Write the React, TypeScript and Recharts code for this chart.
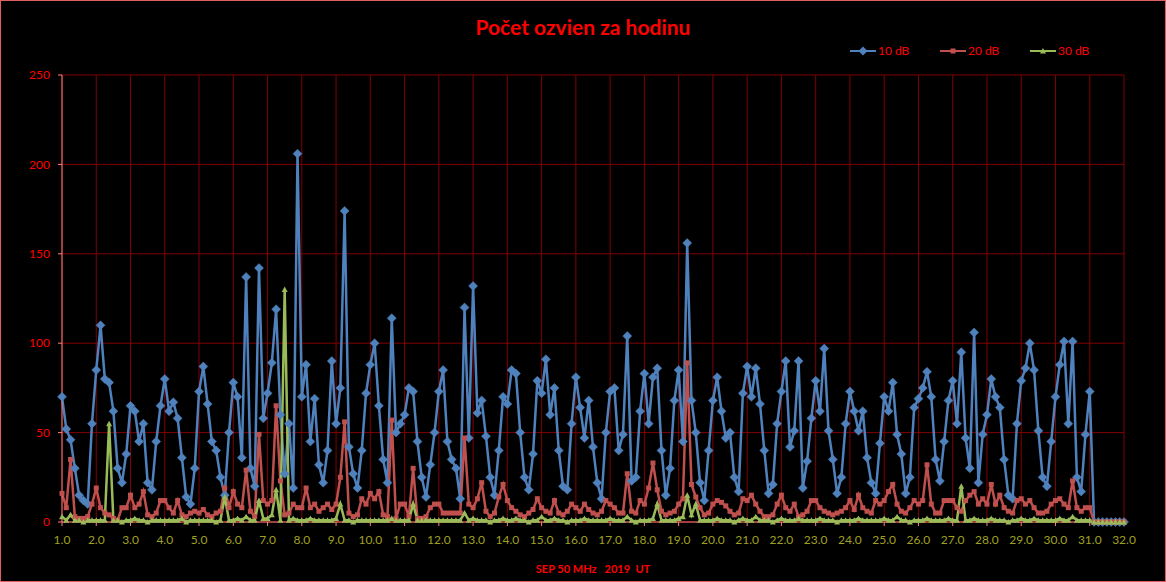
import { LineChart, Line, XAxis, YAxis, CartesianGrid } from "recharts";

// 8 readings per day (every 3 hours), 1.0 .. 32.0
const STEPS_PER_DAY = 8;

const db10 = [
	70, 52, 46, 30, 15, 12, 10, 55,
	85, 110, 80, 78, 62, 30, 22, 38,
	65, 62, 45, 55, 22, 18, 45, 65,
	80, 62, 67, 58, 36, 14, 10, 30,
	73, 87, 66, 45, 40, 25, 15, 50,
	78, 70, 36, 137, 30, 20, 142, 58,
	72, 89, 119, 60, 27, 55, 19, 206,
	70, 88, 45, 69, 32, 22, 40, 90,
	55, 75, 174, 42, 27, 19, 40, 72,
	88, 100, 65, 35, 22, 114, 50, 55,
	60, 75, 73, 45, 25, 14, 32, 50,
	73, 85, 45, 35, 30, 13, 120, 47,
	132, 61, 68, 48, 25, 15, 40, 70,
	66, 85, 83, 50, 25, 18, 38, 79,
	72, 91, 60, 75, 40, 20, 18, 55,
	81, 64, 47, 68, 42, 22, 13, 50,
	73, 75, 40, 49, 104, 23, 25, 62,
	83, 55, 81, 86, 40, 15, 30, 68,
	85, 45, 156, 68, 50, 22, 12, 40,
	68, 81, 62, 47, 50, 25, 17, 72,
	87, 70, 86, 66, 40, 16, 21, 55,
	73, 90, 42, 51, 90, 19, 34, 58,
	79, 62, 97, 51, 35, 16, 25, 55,
	73, 62, 51, 62, 36, 22, 16, 44,
	70, 62, 78, 49, 38, 16, 25, 64,
	69, 75, 84, 70, 35, 23, 45, 68,
	79, 55, 95, 47, 30, 106, 22, 49,
	60, 80, 70, 64, 35, 15, 13, 55,
	79, 86, 100, 85, 51, 25, 20, 45,
	70, 88, 101, 55, 101, 25, 17, 49,
	73, 0, 0, 0, 0, 0, 0, 0,
	0,
];

const db20 = [
	16, 8, 35, 3, 2, 2, 3, 10,
	19, 8, 5, 4, 2, 1, 8, 8,
	15, 8, 10, 17, 4, 3, 5, 12,
	12, 8, 5, 12, 4, 3, 5, 6,
	5, 7, 4, 3, 5, 6, 19, 8,
	17, 10, 8, 29, 6, 3, 49, 12,
	10, 12, 65, 23, 4, 5, 10, 8,
	8, 19, 8, 10, 6, 8, 10, 7,
	10, 25, 56, 5, 3, 4, 13, 10,
	16, 13, 17, 4, 3, 57, 2, 10,
	10, 3, 30, 2, 2, 3, 8, 10,
	10, 5, 5, 5, 5, 5, 47, 10,
	8, 13, 22, 6, 3, 5, 14, 21,
	12, 8, 6, 4, 3, 5, 7, 13,
	8, 6, 5, 12, 5, 4, 6, 10,
	8, 6, 10, 7, 5, 4, 6, 12,
	10, 8, 5, 5, 27, 6, 5, 12,
	10, 19, 33, 18, 6, 4, 5, 6,
	10, 13, 89, 21, 14, 8, 4, 5,
	10, 12, 11, 9, 6, 4, 5, 13,
	12, 15, 10, 6, 3, 3, 4, 10,
	15, 8, 6, 10, 3, 4, 6, 12,
	12, 8, 6, 5, 4, 5, 6, 8,
	12, 7, 15, 8, 6, 5, 12, 10,
	12, 17, 21, 10, 6, 5, 8, 12,
	10, 12, 32, 10, 5, 5, 12, 12,
	12, 8, 6, 12, 15, 17, 10, 13,
	10, 21, 10, 15, 8, 6, 5, 12,
	13, 10, 12, 8, 5, 5, 6, 10,
	12, 13, 10, 8, 23, 8, 6, 8,
	8, 0, 0, 0, 0, 0, 0, 0,
	0,
];

const db30 = [
	3, 1, 4, 1, 1, 0, 1, 1,
	1, 1, 1, 55, 1, 1, 0, 1,
	1, 2, 1, 1, 0, 1, 1, 1,
	1, 1, 1, 1, 2, 0, 1, 1,
	1, 1, 1, 1, 0, 1, 14, 1,
	1, 2, 1, 3, 1, 1, 12, 2,
	2, 4, 18, 1, 130, 1, 2, 1,
	1, 1, 2, 1, 1, 1, 1, 1,
	2, 10, 1, 1, 0, 1, 1, 1,
	1, 1, 1, 1, 1, 2, 1, 1,
	1, 1, 10, 1, 1, 1, 1, 1,
	1, 1, 1, 1, 1, 1, 5, 1,
	2, 1, 1, 1, 0, 1, 1, 2,
	1, 1, 2, 1, 1, 0, 1, 1,
	3, 1, 1, 2, 1, 1, 0, 1,
	1, 1, 2, 1, 1, 1, 1, 1,
	2, 1, 1, 1, 3, 1, 0, 1,
	1, 1, 2, 10, 1, 1, 1, 1,
	2, 3, 15, 4, 10, 1, 1, 1,
	1, 2, 1, 1, 1, 0, 1, 2,
	1, 1, 3, 1, 1, 1, 0, 1,
	2, 1, 1, 1, 2, 1, 1, 1,
	1, 2, 1, 1, 1, 0, 1, 1,
	1, 1, 2, 1, 1, 1, 1, 1,
	2, 1, 1, 3, 1, 1, 0, 1,
	1, 1, 2, 1, 1, 1, 1, 2,
	1, 1, 20, 1, 1, 2, 1, 1,
	1, 2, 1, 1, 1, 0, 1, 1,
	2, 1, 1, 2, 1, 1, 1, 1,
	1, 2, 1, 1, 3, 1, 1, 1,
	1, 0, 0, 0, 0, 0, 0, 0,
	0,
];

const xTicks = [
	1, 2, 3, 4, 5, 6, 7, 8, 9, 10, 11, 12, 13, 14, 15, 16,
	17, 18, 19, 20, 21, 22, 23, 24, 25, 26, 27, 28, 29, 30, 31, 32,
];
const yTicks = [0, 50, 100, 150, 200, 250];

const BLUE = "#4F81BD";
const RED = "#C0504D";
const GREEN = "#9BBB59";
const FONT = "Lato, 'Open Sans', sans-serif";

const data = db10.map((v, i) => ({
	day: 1 + i / STEPS_PER_DAY,
	db10: v,
	db20: db20[i],
	db30: db30[i],
}));

const Diamond = (props: any) => {
	const { cx, cy, index } = props;
	if (cx == null || cy == null) return <g key={`d-${index}`} />;
	return (
		<path
			key={`d-${index}`}
			d={`M${cx},${cy - 4.5}L${cx + 4.5},${cy}L${cx},${cy + 4.5}L${cx - 4.5},${cy}Z`}
			fill={BLUE}
			stroke={BLUE}
			strokeWidth={0.5}
		/>
	);
};

const Square = (props: any) => {
	const { cx, cy, index } = props;
	if (cx == null || cy == null) return <g key={`s-${index}`} />;
	return <rect key={`s-${index}`} x={cx - 2.5} y={cy - 2.5} width={5} height={5} fill={RED} />;
};

const Triangle = (props: any) => {
	const { cx, cy, index } = props;
	if (cx == null || cy == null) return <g key={`t-${index}`} />;
	return (
		<path
			key={`t-${index}`}
			d={`M${cx},${cy - 3}L${cx + 3},${cy + 2.5}L${cx - 3},${cy + 2.5}Z`}
			fill={GREEN}
		/>
	);
};

const legendItems = [
	{ name: "10 dB", color: BLUE, shape: "diamond" },
	{ name: "20 dB", color: RED, shape: "square" },
	{ name: "30 dB", color: GREEN, shape: "triangle" },
];

const ChartLegend = () => (
	<div
		style={{
			position: "absolute",
			top: 42,
			left: 848,
			display: "flex",
			fontFamily: FONT,
			fontSize: 12,
			color: "#FF0000",
		}}
	>
		{legendItems.map((item) => (
			<div key={item.name} style={{ display: "flex", alignItems: "center", width: 90 }}>
				<svg width={28} height={12}>
					<line x1={1} y1={6} x2={27} y2={6} stroke={item.color} strokeWidth={2} />
					{item.shape === "diamond" && <path d="M14,1.5L18.5,6L14,10.5L9.5,6Z" fill={item.color} />}
					{item.shape === "square" && <rect x={11.5} y={3.5} width={5} height={5} fill={item.color} />}
					{item.shape === "triangle" && <path d="M14,3L17,8.5L11,8.5Z" fill={item.color} />}
				</svg>
				<span style={{ marginLeft: 1 }}>{item.name}</span>
			</div>
		))}
	</div>
);

export default function App() {
	return (
		<div
			style={{
				position: "absolute",
				left: 0,
				top: 0,
				width: 1166,
				height: 582,
				background: "#000",
				border: "1px solid #E06060",
				boxSizing: "border-box",
				overflow: "hidden",
			}}
		>
			<div
				style={{
					position: "absolute",
					top: 13,
					width: "100%",
					textAlign: "center",
					fontFamily: FONT,
					fontWeight: 700,
					fontSize: 21,
					color: "#FF0000",
				}}
			>
				Počet ozvien za hodinu
			</div>
			<ChartLegend />
			<LineChart
				width={1164}
				height={580}
				data={data}
				margin={{ top: 74, right: 41, bottom: 29, left: 21 }}
			>
				<CartesianGrid stroke="#800000" strokeWidth={1} />
				<XAxis
					dataKey="day"
					type="number"
					domain={[1, 32]}
					ticks={xTicks}
					interval={0}
					tickFormatter={(v: number) => v.toFixed(1)}
					height={30}
					stroke="#FF8080"
					tickSize={4}
					tickMargin={9}
					tick={{ fill: "#A0A020", fontSize: 12, fontFamily: FONT }}
				/>
				<YAxis
					type="number"
					domain={[0, 250]}
					ticks={yTicks}
					interval={0}
					width={40}
					stroke="#FF8080"
					tickSize={4}
					tickMargin={8}
					tick={{ fill: "#FF0000", fontSize: 12, fontFamily: FONT }}
				/>
				<Line
					dataKey="db10"
					name="10 dB"
					stroke={BLUE}
					strokeWidth={2.5}
					dot={Diamond}
					activeDot={false}
					isAnimationActive={false}
				/>
				<Line
					dataKey="db20"
					name="20 dB"
					stroke={RED}
					strokeWidth={2.5}
					dot={Square}
					activeDot={false}
					isAnimationActive={false}
				/>
				<Line
					dataKey="db30"
					name="30 dB"
					stroke={GREEN}
					strokeWidth={2.5}
					dot={Triangle}
					activeDot={false}
					isAnimationActive={false}
				/>
			</LineChart>
			<div
				style={{
					position: "absolute",
					top: 561,
					left: 10,
					width: "100%",
					textAlign: "center",
					fontFamily: FONT,
					fontWeight: 700,
					fontSize: 11,
					color: "#FF0000",
					whiteSpace: "pre",
				}}
			>
				{"SEP 50 MHz   2019  UT"}
			</div>
		</div>
	);
}
